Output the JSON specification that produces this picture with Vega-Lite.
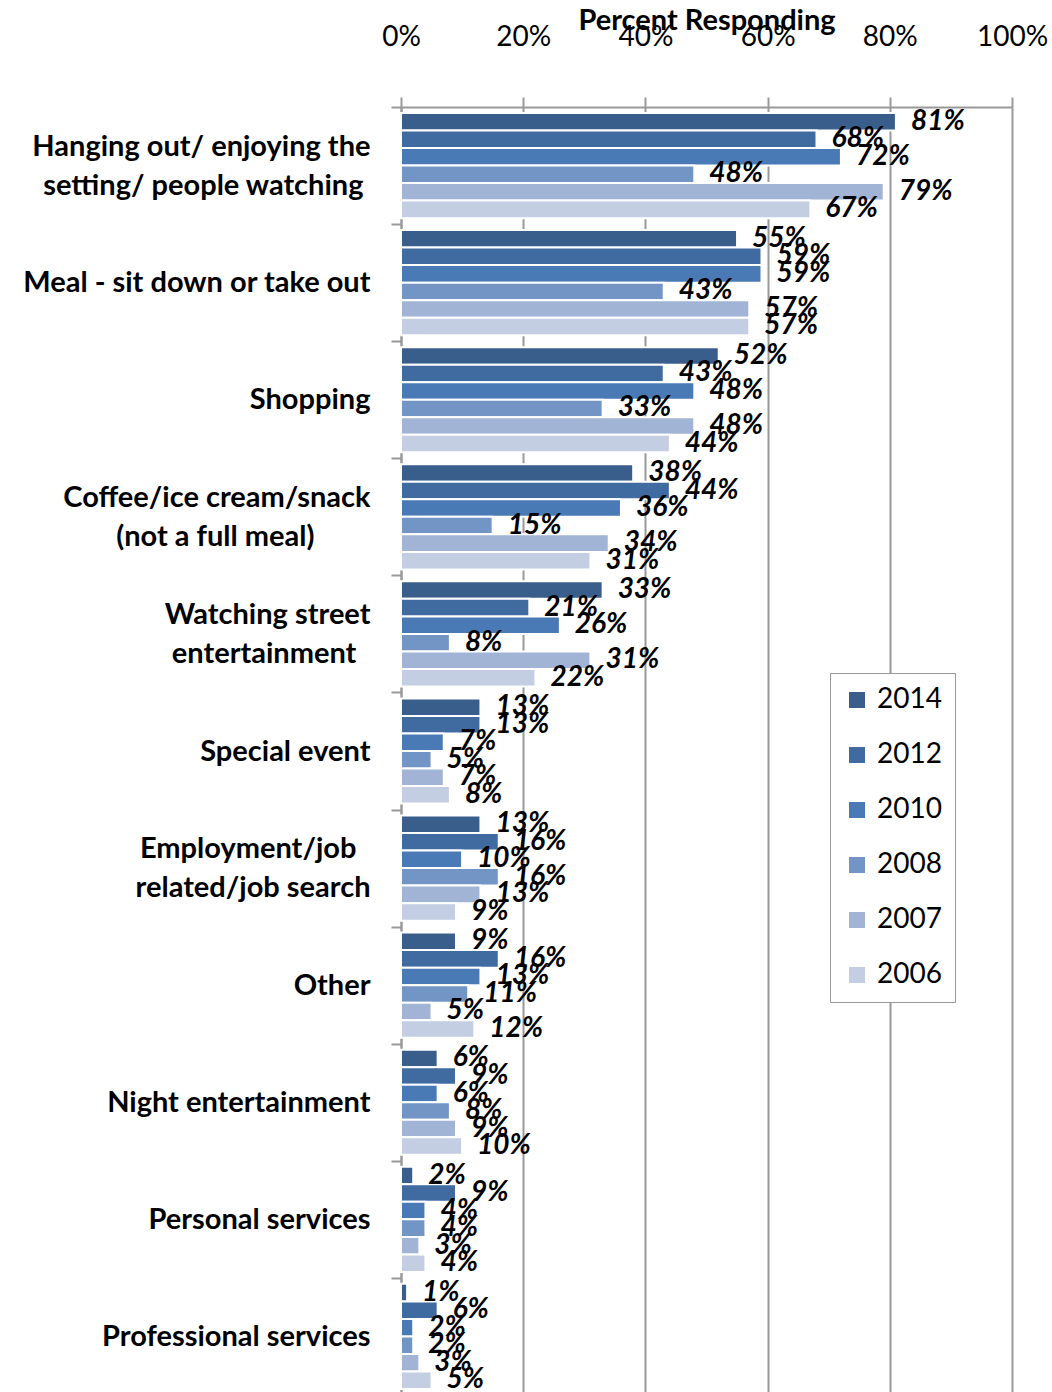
{
  "$schema": "https://vega.github.io/schema/vega-lite/v6.json",
  "width": 611,
  "height": 1288,
  "autosize": {"type": "none"},
  "padding": {"left": 401, "top": 107, "right": 40, "bottom": 0},
  "background": "white",
  "config": {"font": "Lato", "view": {"stroke": null}},
  "data": {
    "values": [
      {"activity": "Hanging out/ enjoying the\nsetting/ people watching", "year": "2014", "pct": 0.81},
      {"activity": "Hanging out/ enjoying the\nsetting/ people watching", "year": "2012", "pct": 0.68},
      {"activity": "Hanging out/ enjoying the\nsetting/ people watching", "year": "2010", "pct": 0.72},
      {"activity": "Hanging out/ enjoying the\nsetting/ people watching", "year": "2008", "pct": 0.48},
      {"activity": "Hanging out/ enjoying the\nsetting/ people watching", "year": "2007", "pct": 0.79},
      {"activity": "Hanging out/ enjoying the\nsetting/ people watching", "year": "2006", "pct": 0.67},
      {"activity": "Meal - sit down or take out", "year": "2014", "pct": 0.55},
      {"activity": "Meal - sit down or take out", "year": "2012", "pct": 0.59},
      {"activity": "Meal - sit down or take out", "year": "2010", "pct": 0.59},
      {"activity": "Meal - sit down or take out", "year": "2008", "pct": 0.43},
      {"activity": "Meal - sit down or take out", "year": "2007", "pct": 0.57},
      {"activity": "Meal - sit down or take out", "year": "2006", "pct": 0.57},
      {"activity": "Shopping", "year": "2014", "pct": 0.52},
      {"activity": "Shopping", "year": "2012", "pct": 0.43},
      {"activity": "Shopping", "year": "2010", "pct": 0.48},
      {"activity": "Shopping", "year": "2008", "pct": 0.33},
      {"activity": "Shopping", "year": "2007", "pct": 0.48},
      {"activity": "Shopping", "year": "2006", "pct": 0.44},
      {"activity": "Coffee/ice cream/snack\n(not a full meal)", "year": "2014", "pct": 0.38},
      {"activity": "Coffee/ice cream/snack\n(not a full meal)", "year": "2012", "pct": 0.44},
      {"activity": "Coffee/ice cream/snack\n(not a full meal)", "year": "2010", "pct": 0.36},
      {"activity": "Coffee/ice cream/snack\n(not a full meal)", "year": "2008", "pct": 0.15},
      {"activity": "Coffee/ice cream/snack\n(not a full meal)", "year": "2007", "pct": 0.34},
      {"activity": "Coffee/ice cream/snack\n(not a full meal)", "year": "2006", "pct": 0.31},
      {"activity": "Watching street\nentertainment", "year": "2014", "pct": 0.33},
      {"activity": "Watching street\nentertainment", "year": "2012", "pct": 0.21},
      {"activity": "Watching street\nentertainment", "year": "2010", "pct": 0.26},
      {"activity": "Watching street\nentertainment", "year": "2008", "pct": 0.08},
      {"activity": "Watching street\nentertainment", "year": "2007", "pct": 0.31},
      {"activity": "Watching street\nentertainment", "year": "2006", "pct": 0.22},
      {"activity": "Special event", "year": "2014", "pct": 0.13},
      {"activity": "Special event", "year": "2012", "pct": 0.13},
      {"activity": "Special event", "year": "2010", "pct": 0.07},
      {"activity": "Special event", "year": "2008", "pct": 0.05},
      {"activity": "Special event", "year": "2007", "pct": 0.07},
      {"activity": "Special event", "year": "2006", "pct": 0.08},
      {"activity": "Employment/job\nrelated/job search", "year": "2014", "pct": 0.13},
      {"activity": "Employment/job\nrelated/job search", "year": "2012", "pct": 0.16},
      {"activity": "Employment/job\nrelated/job search", "year": "2010", "pct": 0.10},
      {"activity": "Employment/job\nrelated/job search", "year": "2008", "pct": 0.16},
      {"activity": "Employment/job\nrelated/job search", "year": "2007", "pct": 0.13},
      {"activity": "Employment/job\nrelated/job search", "year": "2006", "pct": 0.09},
      {"activity": "Other", "year": "2014", "pct": 0.09},
      {"activity": "Other", "year": "2012", "pct": 0.16},
      {"activity": "Other", "year": "2010", "pct": 0.13},
      {"activity": "Other", "year": "2008", "pct": 0.11},
      {"activity": "Other", "year": "2007", "pct": 0.05},
      {"activity": "Other", "year": "2006", "pct": 0.12},
      {"activity": "Night entertainment", "year": "2014", "pct": 0.06},
      {"activity": "Night entertainment", "year": "2012", "pct": 0.09},
      {"activity": "Night entertainment", "year": "2010", "pct": 0.06},
      {"activity": "Night entertainment", "year": "2008", "pct": 0.08},
      {"activity": "Night entertainment", "year": "2007", "pct": 0.09},
      {"activity": "Night entertainment", "year": "2006", "pct": 0.10},
      {"activity": "Personal services", "year": "2014", "pct": 0.02},
      {"activity": "Personal services", "year": "2012", "pct": 0.09},
      {"activity": "Personal services", "year": "2010", "pct": 0.04},
      {"activity": "Personal services", "year": "2008", "pct": 0.04},
      {"activity": "Personal services", "year": "2007", "pct": 0.03},
      {"activity": "Personal services", "year": "2006", "pct": 0.04},
      {"activity": "Professional services", "year": "2014", "pct": 0.01},
      {"activity": "Professional services", "year": "2012", "pct": 0.06},
      {"activity": "Professional services", "year": "2010", "pct": 0.02},
      {"activity": "Professional services", "year": "2008", "pct": 0.02},
      {"activity": "Professional services", "year": "2007", "pct": 0.03},
      {"activity": "Professional services", "year": "2006", "pct": 0.05}
    ]
  },
  "encoding": {
    "y": {
      "field": "activity",
      "type": "nominal",
      "sort": null,
      "scale": {"paddingInner": 0, "paddingOuter": 0},
      "axis": {
        "title": null,
        "tickBand": "extent",
        "tickSize": 10,
        "tickColor": "#999999",
        "tickWidth": 2,
        "domainColor": "#999999",
        "domainWidth": 2,
        "labelFontSize": 29,
        "labelFontWeight": "bold",
        "labelColor": "black",
        "labelLimit": 0,
        "labelPadding": 21,
        "labelAlign": "right",
        "labelBaseline": "middle",
        "labelLineHeight": 19.5,
        "labelOffset": -19.5,
        "labelExpr": "indexof(datum.label, '\\n') < 0 ? ['\u2800', datum.label] : [split(datum.label, '\\n')[0] + (indexof(datum.label, 'Employment') == 0 ? '\u00a0\u00a0\u200b' : ''), '\u2800', split(datum.label, '\\n')[1] + (indexof(datum.label, 'Coffee') == 0 ? '\u2800\u2800\u00a0\u00a0\u200b' : (indexof(datum.label, 'Watching') == 0 ? '\u00a0\u00a0\u200b' : (indexof(datum.label, 'Hanging') == 0 ? '\u00a0\u200b' : '')))]"
      }
    },
    "yOffset": {
      "field": "year",
      "type": "nominal",
      "sort": ["2014", "2012", "2010", "2008", "2007", "2006"],
      "scale": {"paddingInner": 0, "paddingOuter": 0.34}
    },
    "x": {
      "field": "pct",
      "type": "quantitative",
      "scale": {"domain": [0, 1]},
      "axis": {
        "orient": "top",
        "values": [0, 0.2, 0.4, 0.6, 0.8, 1],
        "format": ".0%",
        "grid": true,
        "gridColor": "#999999",
        "gridWidth": 2,
        "tickSize": 10,
        "tickColor": "#999999",
        "tickWidth": 2,
        "domainColor": "#999999",
        "domainWidth": 2,
        "labelFontSize": 28,
        "labelColor": "black",
        "labelFlush": false,
        "labelPadding": 46,
        "title": "Percent Responding",
        "titleFontSize": 29,
        "titleFontWeight": "bold",
        "titleColor": "black",
        "titleY": -87,
        "titleBaseline": "middle"
      }
    }
  },
  "layer": [
    {
      "mark": {"type": "bar", "stroke": "white", "strokeWidth": 2},
      "encoding": {
        "color": {
          "field": "year",
          "type": "nominal",
          "scale": {
            "domain": ["2014", "2012", "2010", "2008", "2007", "2006"],
            "range": ["#3A5E8C", "#406BA0", "#4A7AB6", "#7395C6", "#A1B4D6", "#C3CEE3"]
          },
          "legend": {
            "orient": "none",
            "legendX": 429,
            "legendY": 566,
            "title": null,
            "fillColor": "white",
            "strokeColor": "#999999",
            "padding": 13,
            "symbolType": "square",
            "symbolSize": 256,
            "symbolStrokeWidth": 0,
            "labelFontSize": 28,
            "labelColor": "black",
            "rowPadding": 27,
            "labelOffset": 6
          }
        }
      }
    },
    {
      "mark": {"type": "text", "align": "left", "baseline": "middle", "dx": 15, "fontSize": 28, "fontStyle": "italic", "fontWeight": "bold", "color": "black"},
      "encoding": {
        "text": {"field": "pct", "type": "quantitative", "format": ".0%"}
      }
    }
  ]
}
